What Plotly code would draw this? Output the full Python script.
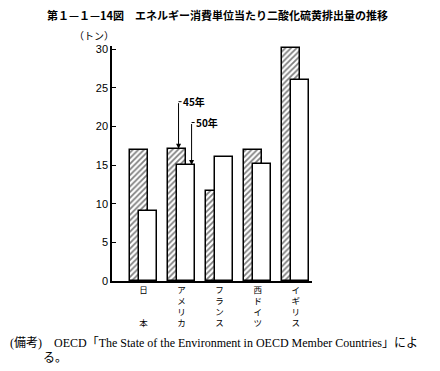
import plotly.graph_objects as go

categories = ["日本", "アメリカ", "フランス", "西ドイツ", "イギリス"]
tick_labels = ["日<br> <br> <br>本", "ア<br>メ<br>リ<br>カ", "フ<br>ラ<br>ン<br>ス",
               "西<br>ド<br>イ<br>ツ", "イ<br>ギ<br>リ<br>ス"]
s45 = [16.9, 17.1, 11.6, 16.9, 30.2]   # 45年
s50 = [9.0, 15.0, 16.1, 15.2, 26.0]    # 50年
y_ticks = [0, 5, 10, 15, 20, 25, 30]

xpos = list(range(len(categories)))
W = 0.474

# page is rendered with an 8px body margin; plot area placed to match the reference
PL, PT, PW, PH = 112, 46, 200, 235   # plot area in page pixels


def px(x):
    return (x - PL) / PW


def py(y):
    return (PT + PH - y) / PH


fig = go.Figure()
fig.add_trace(go.Bar(
    x=xpos, y=s45, name="45年", offset=-0.36, width=W,
    marker=dict(color="white",
                pattern=dict(shape="/", fgcolor="black", bgcolor="white", size=4, solidity=0.45),
                line=dict(color="black", width=1.5)),
    showlegend=False))
fig.add_trace(go.Bar(
    x=xpos, y=s50, name="50年", offset=-0.116, width=W,
    marker=dict(color="white", line=dict(color="black", width=1.5)),
    showlegend=False))

ann_font = dict(family="Noto Sans CJK JP", size=10, color="black")
x45 = 1 - 0.08
y45 = 23.2
x50 = 1 + 0.263
y50 = 20.5
for xx, y_top, y_tip in [(x45, y45, s45[1]), (x50, y50, s50[1])]:
    fig.add_annotation(x=xx, y=y_tip, ax=xx, ay=y_top, axref="x", ayref="y", xref="x", yref="y",
                       text="", showarrow=True, arrowhead=2, arrowsize=1, arrowwidth=1,
                       arrowcolor="black")
    fig.add_shape(type="line", x0=xx, x1=xx + 0.08, y0=y_top, y1=y_top, xref="x", yref="y",
                  line=dict(color="black", width=1))
fig.add_annotation(x=x45 + 0.06, y=y45, xref="x", yref="y", text="<b>45年</b>", showarrow=False,
                   xanchor="left", yanchor="middle", font=ann_font)
fig.add_annotation(x=x50 + 0.06, y=y50, xref="x", yref="y", text="<b>50年</b>", showarrow=False,
                   xanchor="left", yanchor="middle", font=ann_font)

# Title
fig.add_annotation(x=px(217), y=py(15), xref="paper", yref="paper",
                   text="<b>第１—１—14図　エネルギー消費単位当たり二酸化硫黄排出量の推移</b>",
                   showarrow=False, xanchor="center", yanchor="middle",
                   font=dict(family="Noto Sans CJK JP", size=11, color="black"))
# unit
fig.add_annotation(x=px(94), y=py(36), xref="paper", yref="paper", text="（トン）",
                   showarrow=False, xanchor="center", yanchor="middle",
                   font=dict(family="Noto Sans CJK JP", size=10, color="black"))
# footnote
foot_font = dict(family="Liberation Serif, Noto Sans CJK JP", size=12, color="black")
fig.add_annotation(x=px(8), y=py(343), xref="paper", yref="paper",
                   text="(備考)　OECD「The State of the Environment in OECD Member Countries」によ",
                   showarrow=False, xanchor="left", yanchor="middle", font=foot_font)
fig.add_annotation(x=px(41), y=py(358), xref="paper", yref="paper", text="る。",
                   showarrow=False, xanchor="left", yanchor="middle", font=foot_font)

fig.update_layout(
    width=432, height=363,
    margin=dict(l=PL - 8, r=432 - (PL - 8) - PW, t=PT - 8, b=363 - (PT - 8) - PH),
    plot_bgcolor="white", paper_bgcolor="white",
    barmode="overlay", bargap=0,
    xaxis=dict(range=[-0.83, 4.43], showline=True, linecolor="black", linewidth=1.5,
               tickvals=xpos, ticktext=tick_labels, ticks="", showgrid=False, zeroline=False,
               tickfont=dict(family="Noto Sans CJK JP", size=8.5, color="black"), tickangle=0,
               automargin=False),
    yaxis=dict(range=[0, 30.4], showline=True, linecolor="black", linewidth=1.5,
               tickvals=y_ticks, ticks="inside", ticklen=4, tickwidth=1, tickcolor="black",
               showgrid=False, zeroline=False, automargin=False,
               tickfont=dict(family="Liberation Sans Narrow, Liberation Sans", size=11, color="black")),
)
fig.write_html("out.html")
